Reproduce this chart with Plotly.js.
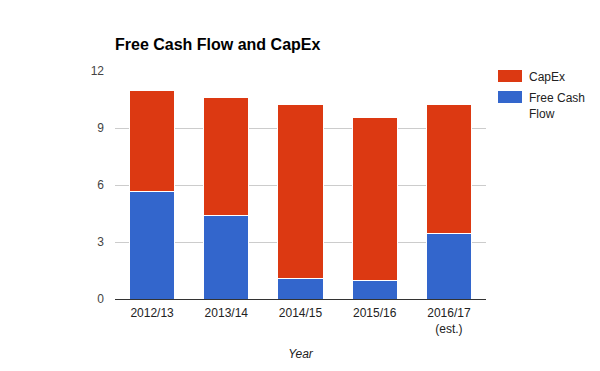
<!DOCTYPE html>
<html><head><meta charset="utf-8">
<script src="https://cdn.plot.ly/plotly-3.0.1.min.js"></script>
<style>body{margin:0;background:#fff}#c{width:600px;height:371px}</style>
</head><body><div id="c"></div>
<script>
const years = ["2012/13","2013/14","2014/15","2015/16","2016/17<br>(est.)"];
const freeCashFlow = [5.67, 4.40, 1.09, 0.98, 3.47];
const capEx = [5.28, 6.23, 9.17, 8.55, 6.79];
const yTicks = [0, 3, 6, 9, 12];
const seriesNames = ["CapEx", "Free Cash<br>Flow"];
const seriesColors = ["#dc3912", "#3366cc"];

const font = "Arial, 'Liberation Sans', sans-serif";
const data = [
  {type:"bar", x:years, y:freeCashFlow, name:seriesNames[1], marker:{color:seriesColors[1], line:{color:"#ffffff", width:1}}},
  {type:"bar", x:years, y:capEx, name:seriesNames[0], marker:{color:seriesColors[0], line:{color:"#ffffff", width:1}}}
];
const W = 600, H = 371;
const shapes = [], annotations = [];
const legTop = [70, 91];
seriesNames.forEach((n, i) => {
  shapes.push({type:"rect", xref:"paper", yref:"paper",
    x0:(498-115)/371, x1:(522-115)/371,
    y0:(299-legTop[i]-12)/228, y1:(299-legTop[i])/228,
    fillcolor:seriesColors[i], line:{width:0}});
  annotations.push({xref:"paper", yref:"paper", x:(527-115)/371, y:(299-legTop[i]+2)/228,
    xanchor:"left", yanchor:"top", align:"left", showarrow:false, text:n,
    font:{family:font, size:12, color:"#222"}});
});
const layout = {
  width:W, height:H,
  margin:{l:115, r:114, t:71, b:72},
  barmode:"stack", bargap:0.39,
  paper_bgcolor:"#fff", plot_bgcolor:"#fff",
  font:{family:font, size:12, color:"#444"},
  title:{text:"<b>Free Cash Flow and CapEx</b>", x:115/600, xanchor:"left", y:1-44/371, yanchor:"middle", font:{family:font, size:16, color:"#000"}},
  xaxis:{title:{text:"<i>Year</i>", font:{family:font, size:12, color:"#222"}, standoff:14},
    tickfont:{family:font, size:12, color:"#222"}, ticklabelstandoff:3, showgrid:false, showline:true, linecolor:"#333", linewidth:1, ticks:"", fixedrange:true},
  yaxis:{range:[0,12], tickvals:yTicks, ticktext:yTicks.map(String), showgrid:true, gridcolor:"#cccccc", zeroline:true, zerolinecolor:"#333", zerolinewidth:1,
    tickfont:{family:font, size:12, color:"#444"}, ticks:"", ticklabelstandoff:10, fixedrange:true},
  shapes:shapes, annotations:annotations,
  showlegend:false
};
Plotly.newPlot("c", data, layout, {displayModeBar:false, staticPlot:true});
</script></body></html>
